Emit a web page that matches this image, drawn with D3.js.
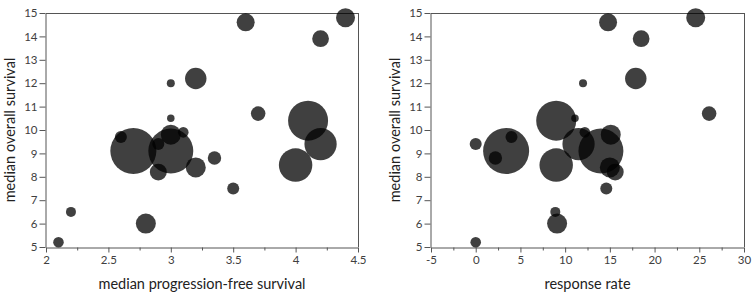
<!DOCTYPE html>
<html><head><meta charset="utf-8">
<script src="https://cdn.jsdelivr.net/npm/d3@7"></script>
<style>
html,body{margin:0;padding:0;background:#fff;}
text{font-family:Lato,"Open Sans",sans-serif;}
</style></head>
<body><svg id="c" width="754" height="297"></svg>
<script>
// median progression-free survival (months)
const pfs = [3.6,4.4,4.2,3.0,3.2,3.0,3.7,4.1,4.2,2.6,2.7,3.0,3.1,3.0,2.9,2.9,3.2,3.35,3.5,4.0,2.8,2.2,2.1];
// median overall survival (months)
const os  = [14.6,14.8,13.9,12.0,12.2,10.5,10.7,10.4,9.4,9.7,9.1,9.8,9.9,9.1,9.4,8.2,8.4,8.8,7.5,8.5,6.0,6.5,5.2];
// response rate (%)
const rr  = [14.8,24.6,18.5,12.0,17.9,11.1,26.1,9.0,11.5,4.0,3.4,15.1,12.2,14.0,0.0,15.6,15.0,2.2,14.6,9.0,9.1,8.9,0.0];
// sample size (bubble area)
const patients = [81,90,70,16,115,14,53,400,260,36,530,100,28,505,36,72,100,45,36,280,100,25,28];

const yTicks = [5,6,7,8,9,10,11,12,13,14,15];
const xTicksPFS = [2,2.5,3,3.5,4,4.5];
const xTicksRR = [-5,0,5,10,15,20,25,30];

const svg = d3.select("#c");
const rScale = d3.scaleSqrt().domain([0,600]).range([0,24.5]);
const fmt = d => String(d);

function panel(cfg){
  const g = svg.append("g");
  const x = d3.scaleLinear().domain(cfg.xDomain).range([cfg.left, cfg.right]);
  const y = d3.scaleLinear().domain([5,15]).range([247,13]);
  const axisColor = "#555";
  // frame top & right
  g.append("line").attr("x1",cfg.left).attr("x2",cfg.right).attr("y1",y(15)+0.5).attr("y2",y(15)+0.5).attr("stroke",axisColor);
  g.append("line").attr("x1",cfg.right+0.5).attr("x2",cfg.right+0.5).attr("y1",y(15)).attr("y2",y(5)).attr("stroke",axisColor);
  // minor x ticks
  const minor = [];
  for(let i=0;i<cfg.xTicks.length-1;i++) minor.push((cfg.xTicks[i]+cfg.xTicks[i+1])/2);
  g.append("g").attr("transform",`translate(0,${y(5)+0.5})`)
    .call(d3.axisBottom(x).tickValues(minor).tickSize(3).tickFormat(""))
    .call(s=>{s.select(".domain").remove(); s.selectAll("line").attr("stroke",axisColor);});
  const xa = g.append("g").attr("transform",`translate(0,${y(5)+0.5})`)
    .call(d3.axisBottom(x).tickValues(cfg.xTicks).tickSize(5).tickSizeOuter(0).tickPadding(3).tickFormat(fmt));
  xa.select(".domain").attr("stroke",axisColor);
  xa.selectAll("line").attr("stroke",axisColor);
  xa.selectAll("text").attr("fill","#404040").style("font-size","11.5px").style("font-family","Lato, sans-serif");
  const ya = g.append("g").attr("transform",`translate(${cfg.left-0.5},0)`)
    .call(d3.axisLeft(y).tickValues(yTicks).tickSize(6).tickSizeOuter(0).tickPadding(2).tickFormat(fmt));
  ya.select(".domain").attr("stroke",axisColor);
  ya.selectAll("line").attr("stroke",axisColor);
  ya.selectAll("text").attr("fill","#404040").style("font-size","11.5px").style("font-family","Lato, sans-serif");
  // bubbles
  g.append("g").selectAll("circle").data(d3.range(os.length)).join("circle")
    .attr("cx",i=>x(cfg.xs[i])).attr("cy",i=>y(os[i])).attr("r",i=>rScale(patients[i]))
    .attr("fill","#000").attr("fill-opacity",0.75);
  // titles
  g.append("text").attr("x",(cfg.left+cfg.right)/2).attr("y",289).attr("text-anchor","middle")
    .attr("fill","#222").style("font-size","14.5px").text(cfg.xTitle);
  g.append("text").attr("transform",`translate(${cfg.left-31},130) rotate(-90)`).attr("text-anchor","middle")
    .attr("fill","#222").style("font-size","14.5px").text("median overall survival");
}

panel({left:46,right:358,xDomain:[2,4.5],xTicks:xTicksPFS,xs:pfs,xTitle:"median progression-free survival"});
panel({left:431,right:744,xDomain:[-5,30],xTicks:xTicksRR,xs:rr,xTitle:"response rate"});
</script></body></html>
